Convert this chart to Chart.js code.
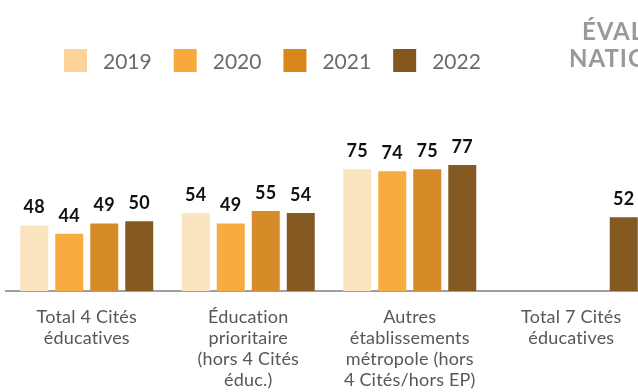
<!DOCTYPE html>
<html lang="fr">
<head>
<meta charset="utf-8">
<title>Évaluations nationales</title>
<script src="https://cdn.jsdelivr.net/npm/chart.js@4/dist/chart.umd.min.js"></script>
<style>
    html, body { margin: 0; padding: 0; background: #fff; overflow: hidden; }
    #wrap { position: absolute; left: 0; top: 0; width: 660px; height: 410px; }
</style>
</head>
<body>
<div id="wrap"><canvas id="evalChart"></canvas></div>
<script>
// --- Data ---
const categories = [
    ['Total 4 Cités', 'éducatives'],
    ['Éducation', 'prioritaire', '(hors 4 Cités', 'éduc.)'],
    ['Autres', 'établissements', 'métropole (hors', '4 Cités/hors EP)'],
    ['Total 7 Cités', 'éducatives']
];
const years = ['2019', '2020', '2021', '2022'];
const values2019 = [48, 54, 75, null];
const values2020 = [44, 49, 74, null];
const values2021 = [49, 55, 75, null];
const values2022 = [50, 54, 77, 52];
const titleLines = ['ÉVALUATIONS', 'NATIONALES'];

const barColors = ['#FBE5C1', '#F8AB3F', '#D68A28', '#855A22'];
const legendColors = ['#FCD398', '#F7A93D', '#D9861A', '#84561E'];

// --- Plugins ---
// tiny letter spacing keeps Lato from swapping in its "ti" ligature
const noLigatures = {
    id: 'noLigatures',
    beforeDraw(chart) {
        chart.ctx.letterSpacing = '0.2px';
    }
};

// value above each bar
const valueLabels = {
    id: 'valueLabels',
    afterDatasetsDraw(chart) {
        const ctx = chart.ctx;
        ctx.save();
        ctx.font = 'bold 18px Lato';
        ctx.fillStyle = '#111';
        ctx.textAlign = 'center';
        ctx.textBaseline = 'alphabetic';
        chart.data.datasets.forEach((ds, i) => {
            chart.getDatasetMeta(i).data.forEach((bar, j) => {
                const v = ds.data[j];
                if (v === null) return;
                ctx.fillText(String(v), bar.x, bar.y - 12);
            });
        });
        ctx.restore();
    }
};

// legend row and header text
const header = {
    id: 'header',
    afterDraw(chart) {
        const ctx = chart.ctx;
        ctx.save();
        ctx.letterSpacing = '0px';
        ctx.font = '21px Lato';
        ctx.textBaseline = 'alphabetic';
        let x = 64;
        years.forEach((year, i) => {
            ctx.fillStyle = legendColors[i];
            ctx.fillRect(x, 49, 23, 23);
            ctx.fillStyle = '#6b6b6b';
            ctx.fillText(year, x + 39, 69);
            x += 39 + ctx.measureText(year).width + 22;
        });

        ctx.font = 'bold 24px Lato';
        ctx.letterSpacing = '1px';
        ctx.fillStyle = '#999999';
        ctx.fillText(titleLines[0], 582, 40);
        ctx.fillText(titleLines[1], 569, 67);
        ctx.restore();
    }
};

const datasets = [values2019, values2020, values2021, values2022].map((data, i) => ({
    label: years[i],
    data: data,
    backgroundColor: barColors[i],
    borderWidth: 0,
    categoryPercentage: 0.867,
    barPercentage: 0.8
}));

new Chart(document.getElementById('evalChart'), {
    type: 'bar',
    data: { labels: categories, datasets: datasets },
    options: {
        responsive: true,
        maintainAspectRatio: false,
        animation: false,
        layout: { padding: { top: 100, left: 6, right: 8, bottom: 3 } },
        plugins: {
            legend: { display: false },
            tooltip: { enabled: false }
        },
        scales: {
            x: {
                grid: { display: false, drawTicks: false },
                border: { display: true, color: '#9e9e9e', width: 2 },
                ticks: {
                    color: '#575757',
                    padding: 16,
                    font: { family: 'Lato', size: 18, lineHeight: '21px' },
                    autoSkip: false,
                    maxRotation: 0
                }
            },
            y: {
                display: false,
                min: 16.5,
                max: 108.3
            }
        }
    },
    plugins: [noLigatures, valueLabels, header]
});
</script>
</body>
</html>
